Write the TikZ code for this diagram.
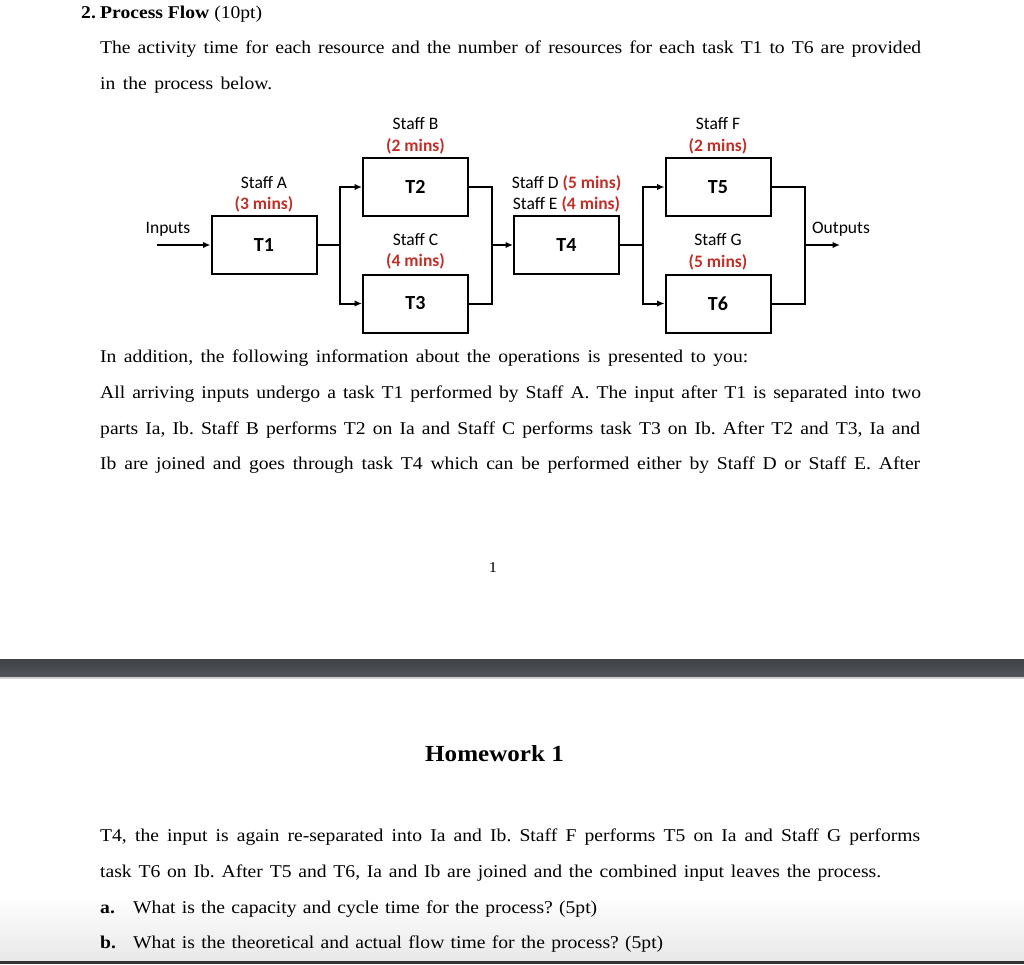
\documentclass[tikz,border=0pt]{standalone}
\usepackage{fontspec}
\setmainfont[FakeStretch=1.09]{Liberation Serif}
\newfontfamily\diagfont{Carlito}
\usepackage{xcolor}
\usetikzlibrary{shapes,arrows.meta,positioning}

\definecolor{minsred}{RGB}{192,48,40}
\definecolor{bandgrey}{RGB}{80,84,88}

\tikzset{
  task/.style={draw, line width=2pt, minimum width=105pt, minimum height=58pt,
    inner sep=0pt, font=\diagfont\fontsize{20}{20}\selectfont\bfseries},
  staff/.style={align=center, inner sep=1pt, font=\diagfont\fontsize{17.5}{21.5}\selectfont},
  flow/.style={line width=2pt},
  arr/.style={flow, -{Latex[length=7.5pt,width=6.5pt]}},
  body/.style={anchor=base west, inner sep=0pt, font=\fontsize{18}{18}\selectfont}
}
\newcommand{\mins}[1]{{\color{minsred}\bfseries(#1 mins)}}

\begin{document}
\frenchspacing
\begin{tikzpicture}[x=1pt, y=-1pt]
  \useasboundingbox (0,0) rectangle (1024,964);

  % Page text, top
  \node[body] (num) at (81,18) {\bfseries 2.};
  \node[body] (head) at (100,18) {\textbf{Process Flow} (10pt)};
  \node[body] (p1) at (100,53) {\makebox[821pt][s]{The activity time for each resource and the number of resources for each task T1 to T6 are provided}};
  \node[body] (p2) at (100,89) {\makebox[172pt][s]{in the process below.}};

  % Draw tasks
  \node[task] (T1) at (264,245) {T1};
  \node[task] (T2) at (415.5,187) {T2};
  \node[task] (T3) at (415.5,303.5) {T3};
  \node[task] (T4) at (566.5,245) {T4};
  \node[task] (T5) at (718,187) {T5};
  \node[task] (T6) at (718,303.5) {T6};

  % Draw staff labels
  \node[staff, above=1.5pt of T1] (sA) {Staff A\\\mins{3}};
  \node[staff, above=2pt of T2] (sB) {Staff B\\\mins{2}};
  \node[staff, above=3pt of T3] (sC) {Staff C\\\mins{4}};
  \node[staff, above=1.5pt of T4] (sDE) {Staff D \mins{5}\\Staff E \mins{4}};
  \node[staff, above=2pt of T5] (sF) {Staff F\\\mins{2}};
  \node[staff, above=2.5pt of T6] (sG) {Staff G\\\mins{5}};

  % Draw flow
  \coordinate (in) at (157,245);
  \coordinate (split1) at (340,245);
  \coordinate (merge1) at (491.5,245);
  \coordinate (split2) at (643,245);
  \coordinate (merge2) at (805,245);
  \coordinate (out) at (840,245);
  \node[staff] (inlbl) at (168,229) {Inputs};
  \node[staff] (outlbl) at (841,229) {Outputs};

  \draw[arr] (in) -- (T1);
  \draw[flow] (T1) -- (split1);
  \draw[arr] (split1) |- (T2);
  \draw[arr] (split1) |- (T3);
  \draw[flow] (T2) -| (merge1);
  \draw[flow] (T3) -| (merge1);
  \draw[arr] (merge1) -- (T4);
  \draw[flow] (T4) -- (split2);
  \draw[arr] (split2) |- (T5);
  \draw[arr] (split2) |- (T6);
  \draw[flow] (T5) -| (merge2);
  \draw[flow] (T6) -| (merge2);
  \draw[arr] (merge2) -- (out);

  % Page text, below the picture
  \node[body] (p3) at (100,362) {\makebox[648pt][s]{In addition, the following information about the operations is presented to you:}};
  \node[body] (p4) at (100,398) {\makebox[821pt][s]{All arriving inputs undergo a task T1 performed by Staff A. The input after T1 is separated into two}};
  \node[body] (p5) at (100,434) {\makebox[820pt][s]{parts Ia, Ib. Staff B performs T2 on Ia and Staff C performs task T3 on Ib. After T2 and T3, Ia and}};
  \node[body] (p6) at (100,469) {\makebox[820pt][s]{Ib are joined and goes through task T4 which can be performed either by Staff D or Staff E. After}};
  \node[body, anchor=base] (pagenum) at (493,572) {\fontsize{15}{15}\selectfont 1};

  % Page break band
  \shade[top color=bandgrey!80!black, bottom color=bandgrey] (0,659) rectangle (1024,677);
  \fill[black!18] (0,677) rectangle (1024,679);

  % Second page
  \node[body, anchor=base] (hw) at (494.5,761) {\fontsize{23}{23}\selectfont\bfseries Homework 1};
  \node[body] (p7) at (100,841) {\makebox[820pt][s]{T4, the input is again re-separated into Ia and Ib. Staff F performs T5 on Ia and Staff G performs}};
  \node[body] (p8) at (100,877) {\makebox[781pt][s]{task T6 on Ib. After T5 and T6, Ia and Ib are joined and the combined input leaves the process.}};
  \shade[top color=white, bottom color=black!9] (0,895) rectangle (1024,961);
  \fill[black!80] (0,961) rectangle (1024,964);
  \node[body] (qa) at (100,913) {\makebox[33pt][l]{\bfseries a.}\makebox[464pt][s]{What is the capacity and cycle time for the process? (5pt)}};
  \node[body] (qb) at (100,948) {\makebox[33pt][l]{\bfseries b.}\makebox[530pt][s]{What is the theoretical and actual flow time for the process? (5pt)}};
\end{tikzpicture}
\end{document}
